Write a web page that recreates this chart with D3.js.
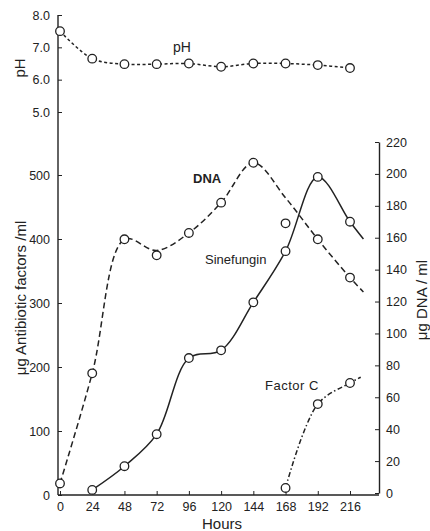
<!DOCTYPE html>
<meta charset="utf-8">
<style>
body { margin: 0; background: #fff; }
text { font-family: "Liberation Sans", Arial, sans-serif; fill: #222; }
.axis line, .axis path { stroke: #222; }
</style>
<body>
<script src="https://d3js.org/d3.v7.min.js"></script>
<script>

// data
var hours = [0, 24, 48, 72, 96, 120, 144, 168, 192, 216];
var xTicks = [0, 24, 48, 72, 96, 120, 144, 168, 192, 216];
var phTicks = [5, 6, 7, 8];
var leftTicks = [0, 100, 200, 300, 400, 500];
var rightTicks = [0, 20, 40, 60, 80, 100, 120, 140, 160, 180, 200, 220];

var phValues = [7.5, 6.65, 6.48, 6.48, 6.5, 6.4, 6.5, 6.5, 6.45, 6.36];

// DNA (right axis) observed points and the drawn curve
var dnaHours = [0, 24, 48, 72, 96, 120, 144, 168, 192, 216];
var dnaValues = [6, 75, 159, 149, 163, 182, 207, 169, 159, 135];
var dnaCurveHours = [0, 24, 48, 72, 96, 120, 144, 168, 192, 216, 226];
var dnaCurveValues = [6, 75, 159, 152, 163, 182, 207, 185, 159, 135, 126];

// Sinefungin (left axis)
var sineHours = [24, 48, 72, 96, 120, 144, 168, 192, 216];
var sineValues = [8, 45, 95, 214, 226, 301, 381, 497, 427];
var sineCurveHours = [24, 48, 72, 96, 120, 144, 168, 192, 216, 226];
var sineCurveValues = [8, 45, 95, 214, 226, 301, 381, 497, 427, 400];

// Factor C (left axis)
var facHours = [168, 192, 216];
var facValues = [11, 142, 175];
var facCurveHours = [168, 192, 216, 224];
var facCurveValues = [11, 142, 175, 184];

var width = 430, height = 531;

var svg = d3.select("body").append("svg")
    .attr("width", width)
    .attr("height", height);

// scales
var x = d3.scaleLinear().domain([0, 216]).range([60, 350]);
var yPh = d3.scaleLinear().domain([5, 8]).range([112, 15]);
var yL = d3.scaleLinear().domain([0, 500]).range([495, 175]);
var yR = d3.scaleLinear().domain([0, 220]).range([493, 142]);

var axisX0 = 58, axisX1 = 379;

// frame lines
svg.append("line")
    .attr("x1", axisX0).attr("x2", axisX0)
    .attr("y1", yPh(8)).attr("y2", yL(0))
    .attr("stroke", "#222").attr("stroke-width", 1.4);

// x axis
var gx = svg.append("g")
    .attr("class", "axis")
    .attr("transform", "translate(0," + yL(0) + ")")
    .call(d3.axisBottom(x).tickValues(xTicks).tickSizeInner(-4).tickSizeOuter(0).tickPadding(7));
gx.select(".domain").attr("d", "M" + axisX0 + ",0H" + axisX1).attr("stroke-width", 1.4);
gx.selectAll("text").attr("font-size", 12.5);

// left pH axis
var gph = svg.append("g")
    .attr("class", "axis")
    .attr("transform", "translate(" + axisX0 + ",0)")
    .call(d3.axisLeft(yPh).tickValues(phTicks).tickFormat(d3.format(".1f")).tickSizeInner(-4).tickSizeOuter(0).tickPadding(8));
gph.select(".domain").remove();
gph.selectAll("text").attr("font-size", 12.5);

// left antibiotic axis
var gl = svg.append("g")
    .attr("class", "axis")
    .attr("transform", "translate(" + axisX0 + ",0)")
    .call(d3.axisLeft(yL).tickValues(leftTicks).tickSizeInner(-4).tickSizeOuter(0).tickPadding(8));
gl.select(".domain").remove();
gl.selectAll("text").attr("font-size", 12.5);

// right DNA axis
var gr = svg.append("g")
    .attr("class", "axis")
    .attr("transform", "translate(" + axisX1 + ",0)")
    .call(d3.axisRight(yR).tickValues(rightTicks).tickSizeInner(-4).tickSizeOuter(0).tickPadding(7));
gr.select(".domain").attr("stroke-width", 1.4);
gr.selectAll("text").attr("font-size", 12.5);

// curves
var line = function(ys) {
  return d3.line()
    .x(function(d) { return x(d[0]); })
    .y(function(d) { return ys(d[1]); })
    .curve(d3.curveCatmullRom.alpha(0.5));
};

function zip(a, b) { return a.map(function(v, i) { return [v, b[i]]; }); }

svg.append("path")
    .datum(zip(hours, phValues))
    .attr("fill", "none").attr("stroke", "#222").attr("stroke-width", 1.5)
    .attr("stroke-dasharray", "3,2.5")
    .attr("d", line(yPh));

svg.append("path")
    .datum(zip(dnaCurveHours, dnaCurveValues))
    .attr("fill", "none").attr("stroke", "#222").attr("stroke-width", 1.5)
    .attr("stroke-dasharray", "6,3.5")
    .attr("d", line(yR));

svg.append("path")
    .datum(zip(sineCurveHours, sineCurveValues))
    .attr("fill", "none").attr("stroke", "#222").attr("stroke-width", 1.5)
    .attr("d", line(yL));

svg.append("path")
    .datum(zip(facCurveHours, facCurveValues))
    .attr("fill", "none").attr("stroke", "#222").attr("stroke-width", 1.5)
    .attr("stroke-dasharray", "5,2.5,1.5,2.5")
    .attr("d", line(yL));

// points
function dots(data, ys) {
  svg.append("g").selectAll("circle")
      .data(data)
    .enter().append("circle")
      .attr("r", 4.3)
      .attr("cx", function(d) { return x(d[0]); })
      .attr("cy", function(d) { return ys(d[1]); })
      .attr("fill", "#fff")
      .attr("stroke", "#222")
      .attr("stroke-width", 1.3);
}
dots(zip(hours, phValues), yPh);
dots(zip(dnaHours, dnaValues), yR);
dots(zip(sineHours, sineValues), yL);
dots(zip(facHours, facValues), yL);

// labels on the plot
svg.append("text").attr("x", 173).attr("y", 52).attr("font-size", 14).text("pH");
svg.append("text").attr("x", 193).attr("y", 183).attr("font-size", 13).attr("font-weight", "bold").text("DNA");
svg.append("text").attr("x", 205).attr("y", 264).attr("font-size", 13).text("Sinefungin");
svg.append("text").attr("x", 265).attr("y", 390).attr("font-size", 13).attr("letter-spacing", 0.5).text("Factor C");

// axis titles
svg.append("text")
    .attr("transform", "translate(25,68) rotate(-90)")
    .style("text-anchor", "middle")
    .attr("font-size", 15)
    .text("pH");
svg.append("text")
    .attr("transform", "translate(26,298) rotate(-90)")
    .style("text-anchor", "middle")
    .attr("font-size", 15)
    .text("μg Antibiotic factors /ml");
svg.append("text")
    .attr("transform", "translate(427,300) rotate(-90)")
    .style("text-anchor", "middle")
    .attr("font-size", 15)
    .text("μg DNA / ml");
svg.append("text")
    .attr("x", 222).attr("y", 529)
    .style("text-anchor", "middle")
    .attr("font-size", 15)
    .text("Hours");

</script>
</body>
